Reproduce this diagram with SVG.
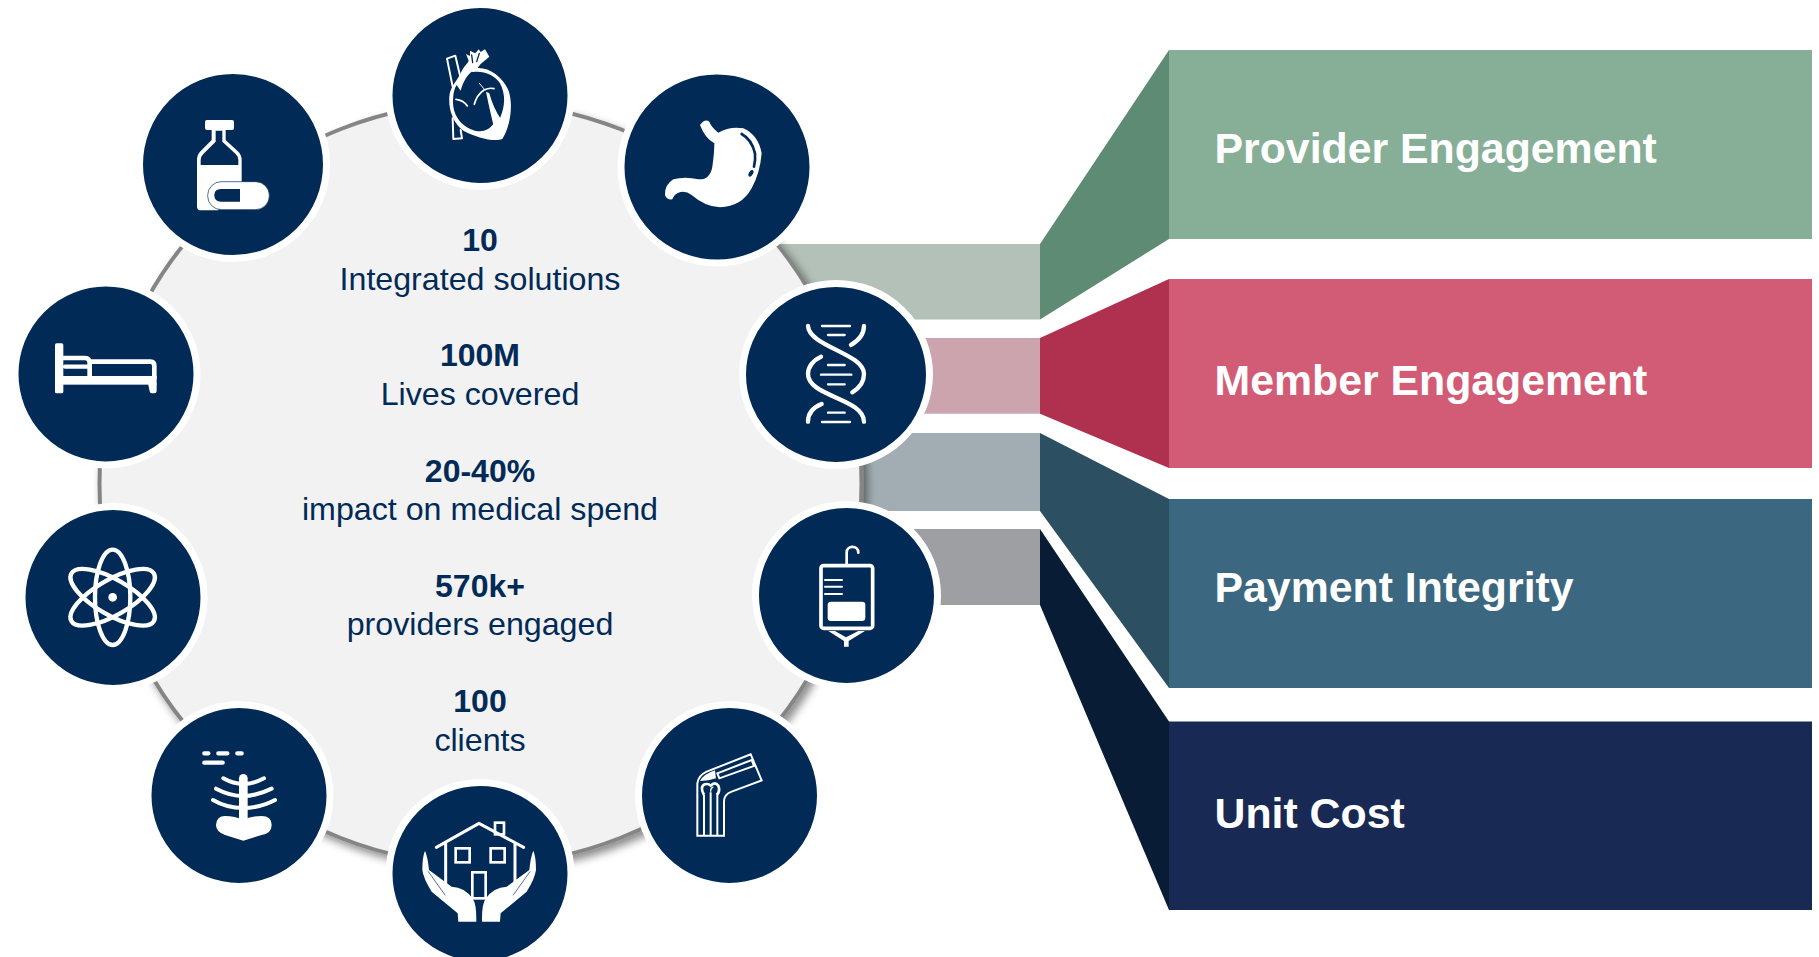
<svg xmlns="http://www.w3.org/2000/svg" width="1819" height="957" viewBox="0 0 1819 957">
<style>
.node{fill:#012a57;stroke:#fff;stroke-width:7}
.big{font:bold 32px "Liberation Sans",Arial,sans-serif;fill:#012a57;text-anchor:middle}
.sub{font:32.200px "Liberation Sans",Arial,sans-serif;fill:#012a57;text-anchor:middle}
.lab{font:bold 42.800px "Liberation Sans",Arial,sans-serif;fill:#fff}
.w{fill:#fff}
.n{fill:#012a57}
.ln{fill:none;stroke:#fff;stroke-linecap:round;stroke-linejoin:round}
.nl{fill:none;stroke:#012a57;stroke-linecap:round}
</style>
<defs>
<filter id="sh" x="-5%" y="-5%" width="112%" height="112%"><feDropShadow dx="4" dy="5" stdDeviation="4" flood-color="#000" flood-opacity=".45"/></filter>
</defs>
<rect width="1819" height="957" fill="#fff"/>
<g id="connectors">
<rect x="760" y="244" width="280" height="75.500" fill="#b3c1b8"/>
<rect x="800" y="338" width="240" height="75.700" fill="#cba4ae"/>
<rect x="800" y="433" width="240" height="78" fill="#a1adb3"/>
<rect x="800" y="529" width="240" height="76" fill="#9d9fa3"/>
<polygon points="1040,244 1169,50 1169,239 1040,319.500" fill="#5e8b73"/>
<polygon points="1040,338 1169,279 1169,468 1040,413.700" fill="#b0304f"/>
<polygon points="1040,433 1169,499 1169,688 1040,511" fill="#2c4f62"/>
<polygon points="1040,529 1169,721.500 1169,910 1040,605" fill="#081c36"/>
</g>
<g id="band-provider"><rect x="1169" y="50" width="643" height="189" fill="#87af98"/><text class="lab" x="1214.500" y="163">Provider Engagement</text></g>
<g id="band-member"><rect x="1169" y="279" width="643" height="189" fill="#d25b75"/><text class="lab" x="1214.500" y="395">Member Engagement</text></g>
<g id="band-payment"><rect x="1169" y="499" width="643" height="189" fill="#3b6780"/><text class="lab" x="1214.500" y="602">Payment Integrity</text></g>
<g id="band-unit"><rect x="1169" y="721.500" width="643" height="188.500" fill="#182a54"/><text class="lab" x="1214.500" y="828">Unit Cost</text></g>
<g id="hub">
<circle cx="480.500" cy="483.500" r="381" fill="#f2f2f2" stroke="#858585" stroke-width="4" filter="url(#sh)"/>
<text class="big" x="480" y="251">10</text><text class="sub" x="480" y="290">Integrated solutions</text>
<text class="big" x="480" y="366">100M</text><text class="sub" x="480" y="405">Lives covered</text>
<text class="big" x="480" y="482">20-40%</text><text class="sub" x="480" y="520">impact on medical spend</text>
<text class="big" x="480" y="597">570k+</text><text class="sub" x="480" y="635">providers engaged</text>
<text class="big" x="480" y="712">100</text><text class="sub" x="480" y="751">clients</text>
</g>
<g id="node-bottle"><ellipse class="node" cx="233" cy="164.500" rx="93.500" ry="94"/>
<g transform="translate(185,110) scale(.3333)">
<rect class="w" x="60" y="30" width="87" height="30" rx="6"/>
<path class="w" d="M80,60V90L45,125Q36,135 36,150V290Q36,301 48,301H100V240H170V150Q170,135 160,125L122,90V60Z"/>
<path class="n" d="M92,62V95L55,132Q47,140 47,150V165H160V150Q160,140 152,132L112,95V62Z"/>
<rect class="w" x="68" y="215" width="185" height="84" rx="41" stroke="#012a57" stroke-width="2"/>
<path class="n" d="M165,237H108Q88,237 88,256Q88,275 108,275H165Z"/>
</g></g>
<g id="node-heart"><circle class="node" cx="480" cy="95.500" r="91"/>
<g transform="translate(430,40) scale(.3333)">
<path class="ln" stroke-width="6" d="M92,115L76,47L51,56L68,140M68,235L70,297L96,295L92,270"/>
<path class="w" d="M135,85C170,78 215,105 235,150C250,190 243,255 217,297C190,307 140,292 100,272C70,250 55,210 58,170C60,140 80,125 92,100C100,80 112,72 116,62L108,42L120,48L120,32L136,40L146,28L152,36L165,28L178,50L152,72L138,90L125,90Z"/>
<path class="n" d="M125,95C108,108 98,130 92,152L80,135C70,150 68,175 70,200C75,235 100,262 135,272C160,278 178,268 190,252L210,235C225,200 228,165 210,130C195,105 160,92 130,96Z"/>
<path class="w" d="M168,155L178,160Q190,205 212,236L190,254Q178,205 168,155Z"/>
<path class="ln" stroke-width="5" d="M133,193Q140,165 162,150Q178,142 192,146M78,178Q100,180 112,198"/>
<path class="ln" stroke-width="3" d="M148,130L165,150"/>
<path class="nl" stroke-width="4" d="M125,45L128,68M148,40L140,65"/>
</g></g>
<g id="node-stomach"><ellipse class="node" cx="717" cy="167" rx="96" ry="96"/>
<g transform="translate(655,110) scale(.3333)">
<path class="w" d="M135,45Q150,25 163,35Q168,50 190,68Q225,48 265,55Q310,75 320,130Q315,190 290,235Q260,290 195,292Q150,290 110,255Q90,240 70,248Q58,252 52,268Q35,270 30,255Q28,225 55,208Q90,198 130,208Q165,210 172,170Q178,130 178,100Q150,85 135,45Z"/>
<path class="nl" stroke-width="8" d="M260,72Q290,88 300,130Q302,150 297,170"/>
<ellipse class="n" cx="288" cy="190" rx="6" ry="11" transform="rotate(30 288 190)"/>
</g></g>
<g id="node-bed"><circle class="node" cx="106" cy="374" r="91"/>
<g transform="translate(0,270) scale(.3333)">
<rect class="w" x="165" y="220" width="25" height="150" rx="5"/>
<rect class="w" x="165" y="318" width="305" height="26"/>
<path class="ln" stroke-width="14" d="M190,264H255Q269,264 269,280V318M269,275H452Q463,275 463,288V325"/>
<path class="ln" stroke-width="13" d="M195,290H265"/>
<path class="w" d="M444,340H470V364Q470,370 463,370H455Q450,370 449,364Z"/>
</g></g>
<g id="node-atom"><circle class="node" cx="113" cy="597.500" r="91"/>
<g transform="translate(0,270) scale(.3333)" fill="none" stroke="#fff" stroke-width="13">
<ellipse cx="338" cy="982" rx="53" ry="143"/>
<ellipse cx="338" cy="982" rx="53" ry="143" transform="rotate(60 338 982)"/>
<ellipse cx="338" cy="982" rx="53" ry="143" transform="rotate(-60 338 982)"/>
<circle cx="338" cy="982" r="13" fill="#fff" stroke="none"/>
</g></g>
<g id="node-dna"><ellipse class="node" cx="836" cy="374.500" rx="93.500" ry="91"/>
<g transform="translate(720,230) scale(.3333)">
<path class="ln" stroke-width="13" d="M264,288C268,350 432,370 432,432C432,460 412,478 397,487"/>
<path class="ln" stroke-width="13" d="M432,288C432,315 415,332 393,345M303,380C280,390 264,410 264,432C264,500 432,505 432,575"/>
<path class="ln" stroke-width="13" d="M305,522C280,532 264,550 264,575"/>
<path class="ln" stroke-width="7" d="M306,288H390M324,315H374M324,405H374M303,434H394M324,463H374M324,548H374M306,576H390"/>
</g></g>
<g id="node-iv"><circle class="node" cx="846.500" cy="595.500" r="91"/>
<g transform="translate(720,230) scale(.3333)">
<rect x="303" y="1007" width="155" height="188" rx="8" fill="none" stroke="#fff" stroke-width="11"/>
<path class="ln" stroke-width="8" d="M380,1005V968C380,945 415,945 415,968"/>
<path class="ln" stroke-width="6" d="M315,1050H366M315,1070H366M315,1092H366"/>
<rect class="w" x="323" y="1115" width="113" height="58" rx="10"/>
<path class="w" d="M325,1203H345L378,1222L415,1203H435L386,1233V1250H372V1233Z"/>
</g></g>
<g id="node-ribs"><circle class="node" cx="239" cy="795.500" r="91"/>
<g transform="translate(190,740) scale(.3333)">
<path class="ln" stroke-width="13" d="M43,40H55M85,40H112M142,40H155M43,68H98"/>
<path class="ln" stroke-width="12" d="M100,115Q130,132 160,132Q190,132 222,115M78,146Q120,168 160,168Q200,168 245,146M69,180Q110,204 160,204Q210,204 255,180"/>
<path class="ln" stroke-width="26" d="M160,115V240"/>
<path class="w" d="M78,255Q80,228 105,228Q135,228 160,240Q185,228 215,228Q245,228 245,255Q245,280 215,285L160,302L105,285Q78,275 78,255Z"/>
</g></g>
<g id="node-house"><circle class="node" cx="480" cy="873.500" r="91"/>
<g transform="translate(415,810) scale(.3333)">
<path class="ln" stroke-width="9" d="M64,112L192,40L326,112M92,100V225M300,100V220"/>
<g fill="none" stroke="#fff" stroke-width="8"><rect x="240" y="38" width="27" height="35"/><rect x="122" y="115" width="42" height="42"/><rect x="227" y="115" width="42" height="42"/><rect x="172" y="187" width="40" height="78"/></g>
<g id="hand-l"><path class="w" d="M30,122Q38,140 42,180L110,230Q150,232 172,265Q185,280 184,335H130L128,310L50,245Q25,205 22,180Q22,140 30,122Z"/>
<path class="nl" stroke-width="2" d="M40,185L90,255"/></g>
<g transform="translate(385,0) scale(-1,1)"><path class="w" d="M30,122Q38,140 42,180L110,230Q150,232 172,265Q185,280 184,335H130L128,310L50,245Q25,205 22,180Q22,140 30,122Z"/>
<path class="nl" stroke-width="2" d="M40,185L90,255"/></g>
</g></g>
<g id="node-knee"><circle class="node" cx="729.500" cy="795.500" r="91"/>
<g transform="translate(680,745) scale(.3333)">
<path fill="none" stroke="#fff" stroke-width="6" d="M52,272V115Q55,92 80,80L212,28L245,106L155,140Q132,148 132,170V272Z"/>
<path fill="none" stroke="#fff" stroke-width="6" d="M72,272V150M112,272V150M92,272V142"/>
<path fill="none" stroke="#fff" stroke-width="8" d="M72,150Q58,125 75,118Q85,115 92,122Q105,108 115,122Q122,138 110,150"/>
<path fill="none" stroke="#fff" stroke-width="4" d="M92,140Q92,128 100,126"/>
<path class="w" d="M60,108Q70,88 105,76L108,100L85,106Z"/>
<path fill="none" stroke="#fff" stroke-width="6" d="M112,85L215,45L222,63L118,100Z"/>
</g></g>
</svg>
